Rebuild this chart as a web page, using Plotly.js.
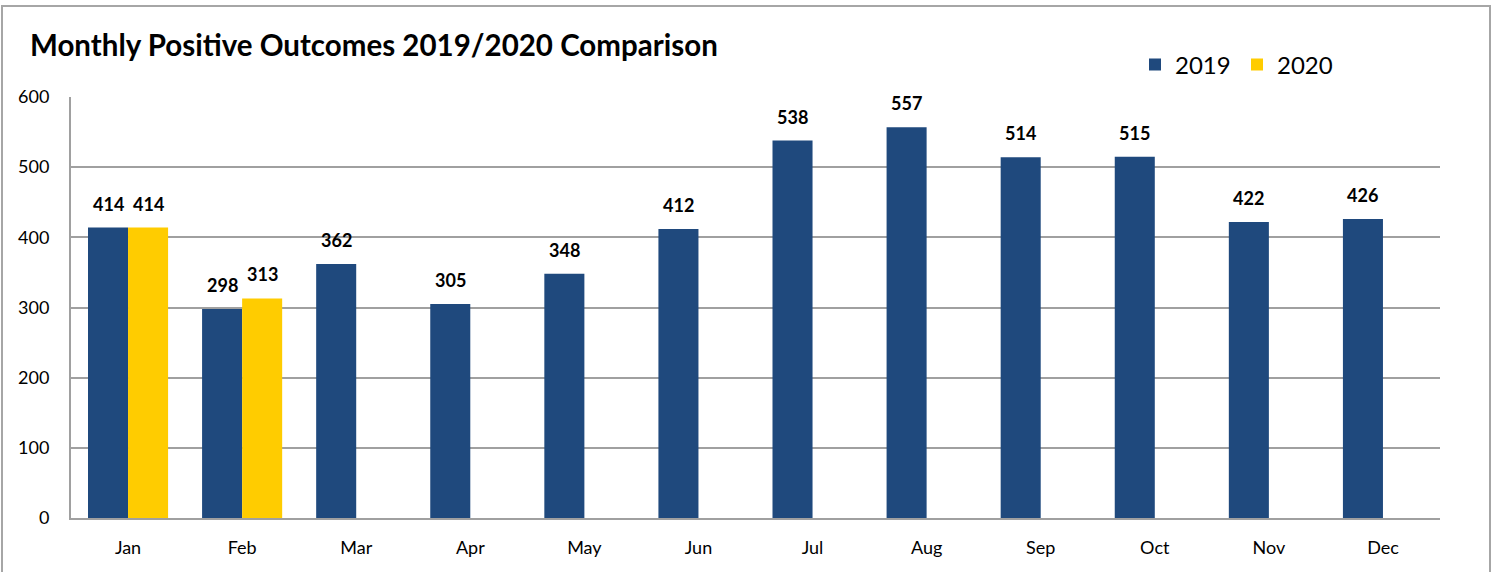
<!DOCTYPE html>
<html>
<head>
<meta charset="utf-8">
<script src="https://cdn.plot.ly/plotly-3.0.1.min.js"></script>
<style>
  body { margin: 0; background: #fff; }
  #chart { position: absolute; left: 0; top: 0; width: 1500px; height: 572px; }
  #frame { position: absolute; left: 1px; top: 5px; width: 1486px; height: 600px;
           border: 2px solid #a6a6a6; pointer-events: none; }
</style>
</head>
<body>
<div id="chart"></div>
<div id="frame"></div>
<script>
// month categories and the two years
var months = ['Jan', 'Feb', 'Mar', 'Apr', 'May', 'Jun', 'Jul', 'Aug', 'Sep', 'Oct', 'Nov', 'Dec'];
var outcomes2019 = [414, 298, 362, 305, 348, 412, 538, 557, 514, 515, 422, 426];
var outcomes2020 = [414, 313, null, null, null, null, null, null, null, null, null, null];

var font = 'Lato, "Open Sans", sans-serif';

var traces = [
  { type: 'bar', name: '2019', x: months, y: outcomes2019,
    marker: { color: '#1f497d' }, hoverinfo: 'x+y' },
  { type: 'bar', name: '2020', x: months, y: outcomes2020,
    marker: { color: '#ffcc00' }, hoverinfo: 'x+y' }
];

// value labels sit a little above each bar
var labels = [];
function addLabels(values, shift) {
  values.forEach(function (v, i) {
    if (v === null) return;
    labels.push({
      x: i + shift, y: v, xref: 'x', yref: 'y', text: '<b>' + v + '</b>',
      showarrow: false, yshift: 24, yanchor: 'middle',
      font: { family: font, size: 18, color: '#000' }
    });
  });
}
addLabels(outcomes2019, -0.175);
addLabels(outcomes2020, 0.175);

var layout = {
  width: 1500, height: 572,
  margin: { l: 71, r: 60, t: 97, b: 54 },
  paper_bgcolor: '#fff', plot_bgcolor: '#fff',
  font: { family: font, color: '#000' },
  title: {
    text: '<b>Monthly Positive Outcomes 2019/2020 Comparison</b>',
    font: { family: font, size: 29.5, color: '#000' },
    x: 30 / 1500, xanchor: 'left', xref: 'container',
    y: 1 - 46 / 572, yanchor: 'middle', yref: 'container'
  },
  barmode: 'group', bargap: 0.298, bargroupgap: 0,
  showlegend: true,
  legend: {
    orientation: 'h', xref: 'container', yref: 'container',
    x: 1135 / 1500, xanchor: 'left', y: 1 - 65 / 572, yanchor: 'middle',
    font: { family: font, size: 24, color: '#000' },
    entrywidth: 57, entrywidthmode: 'pixels', traceorder: 'normal'
  },
  xaxis: {
    type: 'category', showgrid: false, showline: true, linecolor: '#a0a0a0', linewidth: 2,
    ticks: '', tickfont: { family: font, size: 18, color: '#000' }, ticklabelstandoff: 12
  },
  yaxis: {
    range: [0, 600], dtick: 100, showgrid: true, gridcolor: '#a0a0a0', gridwidth: 2,
    showline: true, linecolor: '#a0a0a0', linewidth: 2, zeroline: false,
    ticks: '', tickfont: { family: font, size: 18, color: '#000' }, ticklabelstandoff: 16
  },
  annotations: labels
};

Plotly.newPlot('chart', traces, layout, { displayModeBar: false, staticPlot: true });
</script>
</body>
</html>
